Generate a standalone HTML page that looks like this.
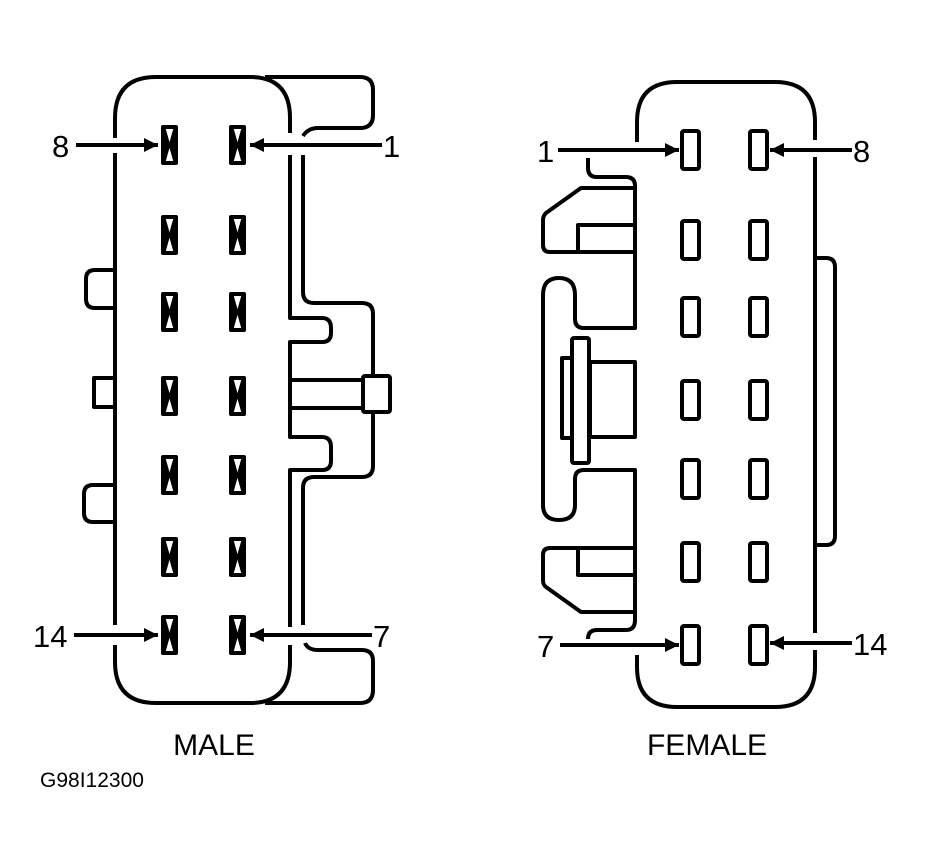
<!DOCTYPE html>
<html><head><style>html,body{margin:0;padding:0;background:#fff}svg{display:block}</style></head><body>
<svg width="927" height="862" viewBox="0 0 927 862" xmlns="http://www.w3.org/2000/svg" font-family="Liberation Sans, sans-serif">
<defs>
<marker id="ah" viewBox="0 0 10 10" refX="10" refY="5" markerWidth="6" markerHeight="3.5" orient="auto" markerUnits="strokeWidth"><path d="M0,0 L10,5 L0,10 z" fill="#000"/></marker>
<g id="mp"><rect x="0" y="0" width="17" height="40" rx="2" fill="#000"/><path d="M4,4 H13 L8.5,20 Z M4,36 H13 L8.5,20 Z" fill="#fff"/><path d="M4,4 L13,36 M13,4 L4,36" stroke="#000" stroke-width="1.5"/></g>
<g id="fp"><rect x="0" y="0" width="17" height="38" rx="2" fill="none" stroke="#000" stroke-width="4"/></g>
</defs>
<g fill="none" stroke="#000" stroke-width="4" stroke-linejoin="round">
<path d="M115,138 V118 Q115,77 156,77 H250 Q290,77 290,118 V133"/>
<path d="M115,153 V625"/>
<path d="M115,645 V662 Q115,703 156,703 H250 Q290,703 290,662 V645"/>
<path d="M290,155 V318 H322 Q331,318 331,328 V333 Q331,342 322,342 H290 V437 H322 Q331,437 331,447 V461 Q331,470 322,470 H290 V627"/>
<path d="M265,77 H360 Q373,77 373,90 V115 Q373,128 360,128 H318 Q308,128 303,136"/>
<path d="M303,155 V292 Q303,303 314,303 H362 Q373,303 373,314 V376"/>
<path d="M373,412 V466 Q373,477 362,477 H314 Q303,477 303,488 V625"/>
<path d="M305,643 Q308,650 318,650 H362 Q373,650 373,661 V690 Q373,703 360,703 H265"/>
<path d="M290,380 H363 M290,408 H363"/>
<rect x="363" y="376" width="27" height="36" rx="2"/>
<path d="M115,270 H95 Q86,270 86,279 V299 Q86,308 95,308 H115"/>
<path d="M115,378 H94 V407 H115"/>
<path d="M115,485 H93 Q84,485 84,494 V513 Q84,522 93,522 H115"/>
<path d="M637,142 V122 Q637,82 677,82 H775 Q815,82 815,122 V140"/>
<path d="M815,157 V633"/>
<path d="M637,655 V667 Q637,707 677,707 H775 Q815,707 815,667 V650"/>
<path d="M815,258 H826 Q835,258 835,267 V536 Q835,545 826,545 H815"/>
<path d="M588,158 V168 Q588,177 597,177 H626 Q635,177 635,186 V328 H584 Q575,328 575,319 V295 Q575,278 559,278 Q543,278 543,295 V505 Q543,520 559,520 Q575,520 575,505 V479 Q575,470 584,470 H635 V620 Q635,630 626,630 H597 Q588,630 588,639"/>
<path d="M635,188 H581 L546,213 Q543,216 543,220 V245 Q543,252 550,252 H635"/>
<path d="M578,252 V225 H635"/>
<path d="M635,548 H550 Q543,548 543,555 V580 Q543,585 546,587 L581,612 H635"/>
<path d="M578,548 V575 H635"/>
<rect x="572" y="338" width="17" height="125" rx="2"/>
<rect x="562" y="358" width="10" height="80"/>
<rect x="590" y="362" width="45" height="75"/>
</g>
<g>
<use href="#mp" x="161" y="125"/><use href="#mp" x="229" y="125"/>
<use href="#mp" x="161" y="215"/><use href="#mp" x="229" y="215"/>
<use href="#mp" x="161" y="292"/><use href="#mp" x="229" y="292"/>
<use href="#mp" x="161" y="376"/><use href="#mp" x="229" y="376"/>
<use href="#mp" x="161" y="455"/><use href="#mp" x="229" y="455"/>
<use href="#mp" x="161" y="537"/><use href="#mp" x="229" y="537"/>
<use href="#mp" x="161" y="615"/><use href="#mp" x="229" y="615"/>
</g>
<g>
<use href="#fp" x="682" y="131"/><use href="#fp" x="750" y="131"/>
<use href="#fp" x="682" y="221"/><use href="#fp" x="750" y="221"/>
<use href="#fp" x="682" y="298"/><use href="#fp" x="750" y="298"/>
<use href="#fp" x="682" y="381"/><use href="#fp" x="750" y="381"/>
<use href="#fp" x="682" y="460"/><use href="#fp" x="750" y="460"/>
<use href="#fp" x="682" y="543"/><use href="#fp" x="750" y="543"/>
<use href="#fp" x="682" y="626"/><use href="#fp" x="750" y="626"/>
</g>
<g stroke="#000" stroke-width="4" marker-end="url(#ah)">
<line x1="76" y1="145" x2="158" y2="145"/>
<line x1="382" y1="145" x2="250" y2="145"/>
<line x1="74" y1="635" x2="158" y2="635"/>
<line x1="372" y1="635" x2="250" y2="635"/>
<line x1="558" y1="150" x2="679" y2="150"/>
<line x1="852" y1="150" x2="770" y2="150"/>
<line x1="560" y1="645" x2="679" y2="645"/>
<line x1="852" y1="643" x2="770" y2="643"/>
</g>
<g font-size="31" fill="#000">
<text x="52" y="157">8</text>
<text x="383" y="157">1</text>
<text x="33" y="647">14</text>
<text x="373" y="647">7</text>
<text x="537" y="162">1</text>
<text x="853" y="162">8</text>
<text x="537" y="657">7</text>
<text x="853" y="655">14</text>
</g>
<text x="214" y="755" font-size="30" text-anchor="middle">MALE</text>
<text x="707" y="755" font-size="30" text-anchor="middle">FEMALE</text>
<text x="40" y="787" font-size="21">G98I12300</text>
</svg>
</body></html>
